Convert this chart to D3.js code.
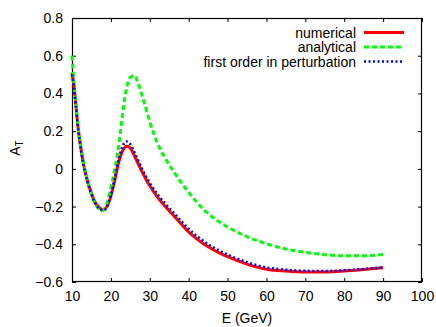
<!DOCTYPE html>
<html>
<head>
<meta charset="utf-8">
<script src="https://cdn.jsdelivr.net/npm/d3@7"></script>
<style>
  html, body { margin: 0; padding: 0; background: #fff; }
  svg { display: block; font-family: "Liberation Sans", Arial, Helvetica, sans-serif; }
</style>
</head>
<body>
<svg id="chart" width="436" height="327"></svg>
<script>
// Energy grid (GeV)
const energy = [10,10.5,11,11.5,12,13,14,15,16,17,18,19,20,21,22,23,24,25,26,27,28,29,30,32,34,36,38,40,42,44,46,48,50,55,60,65,70,75,80,85,90];
// A_T values
const numerical = [0.51,0.44,0.34,0.23,0.15,0.02,-0.065,-0.13,-0.18,-0.205,-0.218,-0.2,-0.145,-0.06,0.035,0.095,0.12,0.11,0.072,0.028,-0.015,-0.055,-0.09,-0.15,-0.2,-0.245,-0.29,-0.335,-0.37,-0.4,-0.425,-0.447,-0.466,-0.505,-0.532,-0.542,-0.547,-0.547,-0.542,-0.534,-0.525];
const analytical = [0.60,0.46,0.35,0.24,0.155,0.03,-0.065,-0.135,-0.185,-0.213,-0.22,-0.18,-0.1,0.0,0.12,0.29,0.425,0.485,0.495,0.455,0.39,0.32,0.25,0.135,0.055,-0.01,-0.07,-0.125,-0.175,-0.218,-0.253,-0.283,-0.308,-0.36,-0.397,-0.425,-0.443,-0.455,-0.461,-0.461,-0.454];
const firstOrder = [0.50,0.435,0.335,0.225,0.145,0.015,-0.07,-0.135,-0.185,-0.21,-0.22,-0.2,-0.14,-0.05,0.05,0.12,0.145,0.13,0.09,0.045,0.0,-0.04,-0.075,-0.135,-0.185,-0.23,-0.275,-0.318,-0.355,-0.386,-0.412,-0.435,-0.455,-0.495,-0.523,-0.535,-0.541,-0.542,-0.538,-0.531,-0.522];

const seriesNames = ["numerical", "analytical", "first order in perturbation"];
const xTicks = [10,20,30,40,50,60,70,80,90,100];
const yTicks = [-0.6,-0.4,-0.2,0,0.2,0.4,0.6,0.8];

const svg = d3.select("#chart");
const L = 72, R = 422, T = 18, B = 282;
const FS = 14;
const x = d3.scaleLinear().domain([10, 100]).range([L, R]);
const y = d3.scaleLinear().domain([-0.6, 0.8]).range([B, T]);

const fmtY = d => (d === 0 ? "0" : d3.format(".1f")(d));

// Axes with inward ticks
const gB = svg.append("g").attr("transform", `translate(0,${B})`)
  .call(d3.axisBottom(x).tickValues(xTicks).tickSize(-4).tickSizeOuter(0).tickPadding(9));
const gL = svg.append("g").attr("transform", `translate(${L},0)`)
  .call(d3.axisLeft(y).tickValues(yTicks).tickFormat(fmtY).tickSize(-4).tickSizeOuter(0).tickPadding(9));
const gT = svg.append("g").attr("transform", `translate(0,${T})`)
  .call(d3.axisTop(x).tickValues(xTicks).tickSize(-4).tickSizeOuter(0).tickFormat(""));
const gR = svg.append("g").attr("transform", `translate(${R},0)`)
  .call(d3.axisRight(y).tickValues(yTicks).tickSize(-4).tickSizeOuter(0).tickFormat(""));
[gB, gL, gT, gR].forEach(g => {
  g.select(".domain").remove();
  g.selectAll("text").attr("font-size", FS).attr("fill", "#000").attr("font-family", null);
  g.selectAll("line").attr("stroke", "#000");
});

svg.append("rect").attr("x", L + 0.5).attr("y", T + 0.5)
  .attr("width", R - L - 1).attr("height", B - T - 1)
  .attr("fill", "none").attr("stroke", "#000").attr("stroke-width", 1.2);

// Labels
svg.append("text").attr("x", (L + R) / 2).attr("y", 323).attr("text-anchor", "middle")
  .attr("font-size", FS).text("E (GeV)");
const yl = svg.append("text").attr("transform", "translate(20,148) rotate(-90)")
  .attr("text-anchor", "middle").attr("font-size", FS);
yl.append("tspan").text("A");
yl.append("tspan").attr("font-size", 10).attr("dy", 3).text("T");

// Lines
const line = vals => d3.line().curve(d3.curveMonotoneX)
  .x((d, i) => x(energy[i])).y(d => y(d))(vals);

const styles = [
  { data: numerical, color: "#ff0000", width: 3, dash: null },
  { data: analytical, color: "#00ff00", width: 3, dash: "5,3" },
  { data: firstOrder, color: "#0000ff", width: 2.6, dash: "2,2.5" }
];

styles.forEach(s => {
  svg.append("path").attr("d", line(s.data)).attr("fill", "none")
    .attr("stroke", s.color).attr("stroke-width", s.width)
    .attr("stroke-dasharray", s.dash);
});

// Legend
const legY = [32.5, 47, 61.5];
seriesNames.forEach((name, i) => {
  svg.append("text").attr("x", 356).attr("y", legY[i] + 5).attr("text-anchor", "end")
    .attr("font-size", FS).text(name);
  svg.append("line").attr("x1", 364).attr("x2", 404).attr("y1", legY[i]).attr("y2", legY[i])
    .attr("stroke", styles[i].color).attr("stroke-width", styles[i].width)
    .attr("stroke-dasharray", styles[i].dash);
});
</script>
</body>
</html>
